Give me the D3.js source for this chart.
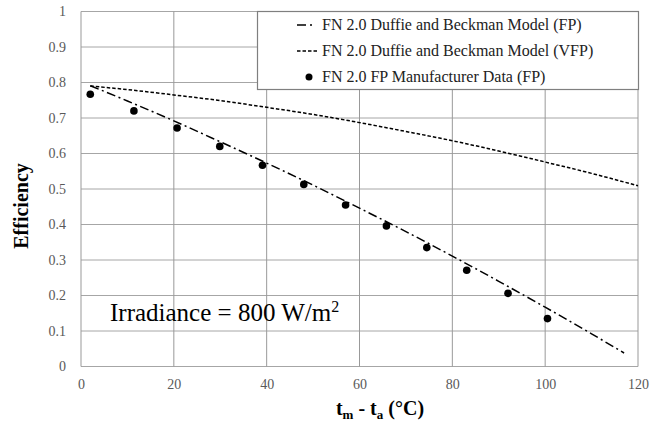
<!DOCTYPE html>
<html>
<head>
<meta charset="utf-8">
<script src="https://cdn.jsdelivr.net/npm/d3@7/dist/d3.min.js"></script>
<style>
  body { margin: 0; background: #fff; }
  text { font-family: 'Liberation Serif', 'Times New Roman', 'DejaVu Serif'; }
</style>
</head>
<body>
<svg width="662" height="426"></svg>
<script>
var svg = d3.select('svg');
var serif = "'Liberation Serif', 'Times New Roman', 'DejaVu Serif'";

// values
var xTicks = [0, 20, 40, 60, 80, 100, 120];
var yTicks = [0, 0.1, 0.2, 0.3, 0.4, 0.5, 0.6, 0.7, 0.8, 0.9, 1];

// FN 2.0 Duffie and Beckman Model (FP)
var fpX = [2, 10, 20, 30, 40, 50, 60, 70, 80, 90, 100, 110, 117];
var fpY = [0.791, 0.748, 0.692, 0.633, 0.573, 0.511, 0.446, 0.380, 0.311, 0.240, 0.167, 0.092, 0.038];

// FN 2.0 Duffie and Beckman Model (VFP)
var vfpX = [2, 10, 20, 30, 40, 50, 60, 70, 80, 90, 100, 110, 120];
var vfpY = [0.790, 0.780, 0.765, 0.749, 0.730, 0.710, 0.687, 0.662, 0.636, 0.607, 0.576, 0.544, 0.509];

// FN 2.0 FP Manufacturer Data (FP)
var dataX = [2, 11.4, 20.7, 29.9, 39.1, 48, 57, 65.8, 74.5, 83.1, 92, 100.5];
var dataY = [0.767, 0.720, 0.672, 0.620, 0.567, 0.513, 0.455, 0.396, 0.335, 0.271, 0.206, 0.135];

var legendLabels = ['FN 2.0 Duffie and Beckman Model (FP)',
                    'FN 2.0 Duffie and Beckman Model (VFP)',
                    'FN 2.0 FP Manufacturer Data (FP)'];

var margin = {left: 81, right: 24, top: 11.5, bottom: 59.5};
var width = 662, height = 426;

var xScale = d3.scaleLinear().domain([0, 120]).range([margin.left, width - margin.right]);
var yScale = d3.scaleLinear().domain([0, 1]).range([height - margin.bottom, margin.top]);

// grid
svg.append('g')
    .selectAll('line')
    .data(yTicks)
    .enter().append('line')
    .attr('x1', xScale(0)).attr('x2', xScale(120))
    .attr('y1', function(d) { return yScale(d); })
    .attr('y2', function(d) { return yScale(d); })
    .attr('stroke', '#a6a6a6').attr('stroke-width', 1);

svg.append('g')
    .selectAll('line')
    .data(xTicks)
    .enter().append('line')
    .attr('y1', yScale(0)).attr('y2', yScale(1))
    .attr('x1', function(d) { return xScale(d); })
    .attr('x2', function(d) { return xScale(d); })
    .attr('stroke', '#999').attr('stroke-width', 1);

// axes (labels only, lines come from the grid)
var xAxis = svg.append('g')
    .attr('transform', 'translate(0,' + yScale(0) + ')')
    .call(d3.axisBottom(xScale).tickValues(xTicks).tickSize(0).tickPadding(13).tickFormat(d3.format('d')));
var yAxis = svg.append('g')
    .attr('transform', 'translate(' + xScale(0) + ',0)')
    .call(d3.axisLeft(yScale).tickValues(yTicks).tickSize(0).tickPadding(15).tickFormat(function(d) { return d === 0 || d === 1 ? d : d3.format('.1f')(d); }));

[xAxis, yAxis].forEach(function(a) {
  a.attr('font-family', serif).attr('font-size', 14);
  a.select('.domain').remove();
  a.selectAll('text').attr('fill', '#595959');
});

// lines
var line = d3.line()
    .x(function(d) { return xScale(d[0]); })
    .y(function(d) { return yScale(d[1]); })
    .curve(d3.curveMonotoneX);

svg.append('path')
    .datum(vfpX.map(function(x, i) { return [x, vfpY[i]]; }))
    .attr('d', line)
    .attr('fill', 'none')
    .attr('stroke', '#000')
    .attr('stroke-width', 1.5)
    .attr('stroke-dasharray', '3.5,2');

svg.append('path')
    .datum(fpX.map(function(x, i) { return [x, fpY[i]]; }))
    .attr('d', line)
    .attr('fill', 'none')
    .attr('stroke', '#000')
    .attr('stroke-width', 1.5)
    .attr('stroke-dasharray', '9,3.5,2,3.5');

svg.append('g')
    .selectAll('circle')
    .data(dataX.map(function(x, i) { return [x, dataY[i]]; }))
    .enter().append('circle')
    .attr('cx', function(d) { return xScale(d[0]); })
    .attr('cy', function(d) { return yScale(d[1]); })
    .attr('r', 3.8)
    .attr('fill', '#000');

// legend
var legend = svg.append('g').attr('transform', 'translate(257,11)');
legend.append('rect')
    .attr('x', 0.5).attr('y', 0.5)
    .attr('width', 381).attr('height', 78)
    .attr('fill', '#fff')
    .attr('stroke', '#7f7f7f')
    .attr('stroke-width', 1.2);

var rows = legend.selectAll('.lg')
    .data(legendLabels)
    .enter().append('g')
    .attr('class', 'lg')
    .attr('transform', function(d, i) { return 'translate(0,' + (14 + i * 26) + ')'; });

rows.append('text')
    .attr('x', 65)
    .attr('y', 5)
    .attr('font-family', serif)
    .attr('font-size', 16)
    .attr('fill', '#222')
    .text(function(d) { return d; });

rows.filter(function(d, i) { return i === 0; })
    .append('line')
    .attr('x1', 40).attr('x2', 62).attr('y1', 0).attr('y2', 0)
    .attr('stroke', '#000').attr('stroke-width', 1.5)
    .attr('stroke-dasharray', '9,4,2,20');
rows.filter(function(d, i) { return i === 1; })
    .append('line')
    .attr('x1', 40).attr('x2', 62).attr('y1', 0).attr('y2', 0)
    .attr('stroke', '#000').attr('stroke-width', 1.5)
    .attr('stroke-dasharray', '3.5,2');
rows.filter(function(d, i) { return i === 2; })
    .append('circle')
    .attr('cx', 52).attr('cy', 0).attr('r', 3.5)
    .attr('fill', '#000');

// annotation
var ann = svg.append('text')
    .attr('x', 110)
    .attr('y', 321)
    .attr('font-family', serif)
    .attr('font-size', 25)
    .attr('fill', '#000');
ann.append('tspan').text('Irradiance = 800 W/m');
ann.append('tspan').attr('dy', -9).attr('font-size', 16).text('2');

// axis titles
var xt = svg.append('text')
    .attr('x', 380)
    .attr('y', 415)
    .attr('text-anchor', 'middle')
    .attr('font-family', serif)
    .attr('font-size', 20)
    .attr('font-weight', 'bold');
xt.append('tspan').text('t');
xt.append('tspan').attr('dy', 4).attr('font-size', 13).text('m');
xt.append('tspan').attr('dy', -4).text(' - t');
xt.append('tspan').attr('dy', 4).attr('font-size', 13).text('a');
xt.append('tspan').attr('dy', -4).text(' (\u00B0C)');

svg.append('text')
    .attr('transform', 'translate(28,206) rotate(-90)')
    .attr('text-anchor', 'middle')
    .attr('font-family', serif)
    .attr('font-size', 20)
    .attr('font-weight', 'bold')
    .text('Efficiency');
</script>
</body>
</html>
